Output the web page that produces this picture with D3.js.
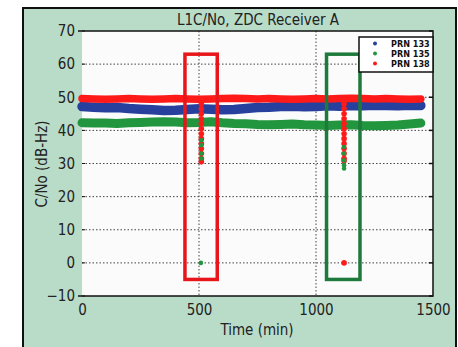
<!DOCTYPE html>
<html><head><meta charset="utf-8">
<script src="https://cdn.jsdelivr.net/npm/d3@7"></script>
<style>body{margin:0;background:#fff}svg{display:block}</style>
</head><body>
<svg id="c" width="458" height="347"></svg>
<script>
// ---- data ----
const times = [0,50,100,150,200,250,300,350,400,450,500,550,600,650,700,750,800,850,900,950,1000,1050,1100,1150,1200,1250,1300,1350,1400,1448];
const prn133 = [47.2,47.0,46.8,46.9,46.6,46.4,46.2,46.0,46.1,46.3,46.5,46.4,46.2,46.3,46.6,46.9,47.0,47.2,47.3,47.1,47.2,47.4,47.3,47.5,47.4,47.6,47.5,47.4,47.6,47.5];
const prn135 = [42.3,42.2,42.2,42.1,42.3,42.4,42.5,42.6,42.5,42.3,42.4,42.6,42.3,42.1,42.0,41.8,41.7,41.8,41.9,41.7,41.6,41.5,41.6,41.7,41.5,41.4,41.5,41.6,41.9,42.2];
const prn138 = [49.6,49.5,49.4,49.5,49.6,49.5,49.4,49.5,49.6,49.5,49.4,49.5,49.6,49.7,49.6,49.5,49.6,49.5,49.4,49.5,49.6,49.5,49.6,49.7,49.6,49.5,49.6,49.5,49.4,49.5];
// dropout samples
const drop138 = [
  [510,48],[510,46.5],[510,45],[510,43.5],[510,42],[510,40.5],[510,39],[510,37.5],[510,36],[510,34.5],[510,33],[510,31.5],[510,30.5],
  [1120,48],[1120,46.5],[1120,45],[1120,43.5],[1120,42],[1120,40.5],[1120,39],[1120,37.5],[1120,36],[1120,34.5],[1120,33],[1120,31.5],[1120,30.8],
  [1120,0]
];
const drop135 = [[510,37],[510,35.5],[510,33],[510,31.5],[508,0],[1120,35],[1120,33],[1120,31],[1120,29.5],[1120,28.5]];
const boxes = [{t0:440,t1:578,v0:-5,v1:63,c:"#e8161a"},{t0:1045,t1:1188,v0:-5,v1:63,c:"#1d7a3a"}];
const xTicks = [0,500,1000,1500];
const yTicks = [-10,0,10,20,30,40,50,60,70];
const legend = [["PRN 133","#27409e"],["PRN 135","#22963f"],["PRN 138","#ff1a1a"]];

// ---- drawing ----
const font = "'Liberation Sans Narrow','DejaVu Sans Condensed',sans-serif";
const svg = d3.select("#c");
const L=82,R=433,T=31,B=296;
const x = d3.scaleLinear().domain([0,1500]).range([L,R]);
const y = d3.scaleLinear().domain([-10,70]).range([B,T]);

svg.append("rect").attr("x",23).attr("y",8).attr("width",433).attr("height",360)
  .attr("fill","#b9dcc8").attr("stroke","#111").attr("stroke-width",2);
svg.append("rect").attr("x",L).attr("y",T).attr("width",R-L).attr("height",B-T).attr("fill","#fbfbfb");

// grid
const g = svg.append("g");
g.selectAll(".gy").data(yTicks.filter(v=>v>-10&&v<70)).join("line")
  .attr("x1",L).attr("x2",R).attr("y1",d=>y(d)).attr("y2",d=>y(d))
  .attr("stroke","#444").attr("stroke-width",1).attr("stroke-dasharray","1.5,2");
g.selectAll(".gx").data(xTicks.filter(v=>v>0&&v<1500)).join("line")
  .attr("y1",T).attr("y2",B).attr("x1",d=>x(d)).attr("x2",d=>x(d))
  .attr("stroke","#444").attr("stroke-width",1).attr("stroke-dasharray","1.5,2");

// axes
const yAxis = d3.axisLeft(y).tickValues(yTicks).tickSize(0).tickPadding(7);
const ya = svg.append("g").attr("transform",`translate(${L},0)`).call(yAxis);
const xAxis = d3.axisBottom(x).tickValues(xTicks).tickFormat(d3.format("d")).tickSize(0).tickPadding(8);
const xa = svg.append("g").attr("transform",`translate(0,${B})`).call(xAxis);
[ya,xa].forEach(a=>{a.select(".domain").remove();
  a.selectAll("text").attr("font-family",font).attr("font-size",15).attr("fill","#222");});

// inner ticks on right
svg.selectAll(".rt").data(yTicks).join("line")
  .attr("x1",R-4).attr("x2",R).attr("y1",d=>y(d)).attr("y2",d=>y(d)).attr("stroke","#111").attr("stroke-width",1.5);
svg.selectAll(".lt").data(yTicks).join("line")
  .attr("x1",L).attr("x2",L+3).attr("y1",d=>y(d)).attr("y2",d=>y(d)).attr("stroke","#111").attr("stroke-width",1);

// series as thick bands
const line = vals => d3.line().x((d,i)=>x(times[i])).y(d=>y(d)).curve(d3.curveLinear)(vals);
svg.append("path").attr("d",line(prn133)).attr("fill","none").attr("stroke","#27409e").attr("stroke-width",9.5).attr("stroke-linecap","round").attr("stroke-linejoin","round");
svg.append("path").attr("d",line(prn135)).attr("fill","none").attr("stroke","#22963f").attr("stroke-width",9).attr("stroke-linecap","round").attr("stroke-linejoin","round");
svg.append("path").attr("d",line(prn138)).attr("fill","none").attr("stroke","#ff1a1a").attr("stroke-width",7.5).attr("stroke-linecap","round").attr("stroke-linejoin","round");

svg.selectAll(".d138").data(drop138).join("circle")
  .attr("cx",d=>x(d[0])).attr("cy",d=>y(d[1])).attr("r",2.8).attr("fill","#ff1a1a");
svg.selectAll(".d135").data(drop135).join("circle")
  .attr("cx",d=>x(d[0])).attr("cy",d=>y(d[1])).attr("r",2.3).attr("fill","#22963f");

// plot frame (top, right, bottom)
svg.append("path").attr("d",`M${L-4},${T}H${R}V${B}H${L-4}`).attr("fill","none").attr("stroke","#111").attr("stroke-width",1.5);

// highlight boxes
svg.selectAll(".box").data(boxes).join("rect")
  .attr("x",d=>x(d.t0)).attr("y",d=>y(d.v1)).attr("width",d=>x(d.t1)-x(d.t0)).attr("height",d=>y(d.v0)-y(d.v1))
  .attr("fill","none").attr("stroke",d=>d.c).attr("stroke-width",3.5);

// legend
const lg = svg.append("g");
lg.append("rect").attr("x",359).attr("y",37).attr("width",R-359).attr("height",35).attr("fill","#fff").attr("stroke","#111").attr("stroke-width",1.5);
legend.forEach((d,i)=>{
  lg.append("circle").attr("cx",375).attr("cy",43.5+i*10).attr("r",2).attr("fill",d[1]);
  lg.append("text").attr("x",391).attr("y",43.5+i*10).attr("dy","0.35em").text(d[0])
    .attr("font-family",font).attr("font-size",9).attr("font-weight","bold").attr("fill","#111");
});

// titles
svg.append("text").attr("x",258).attr("y",20).attr("dy","0.35em").attr("text-anchor","middle")
  .attr("font-family",font).attr("font-size",15).attr("fill","#222").text("L1C/No, ZDC Receiver A");
svg.append("text").attr("x",257).attr("y",330).attr("dy","0.35em").attr("text-anchor","middle")
  .attr("font-family",font).attr("font-size",15).attr("fill","#222").text("Time (min)");
svg.append("text").attr("transform","translate(42,164) rotate(-90)").attr("dy","0.35em").attr("text-anchor","middle")
  .attr("font-family",font).attr("font-size",15).attr("fill","#222").text("C/No (dB-Hz)");
</script>
</body></html>
